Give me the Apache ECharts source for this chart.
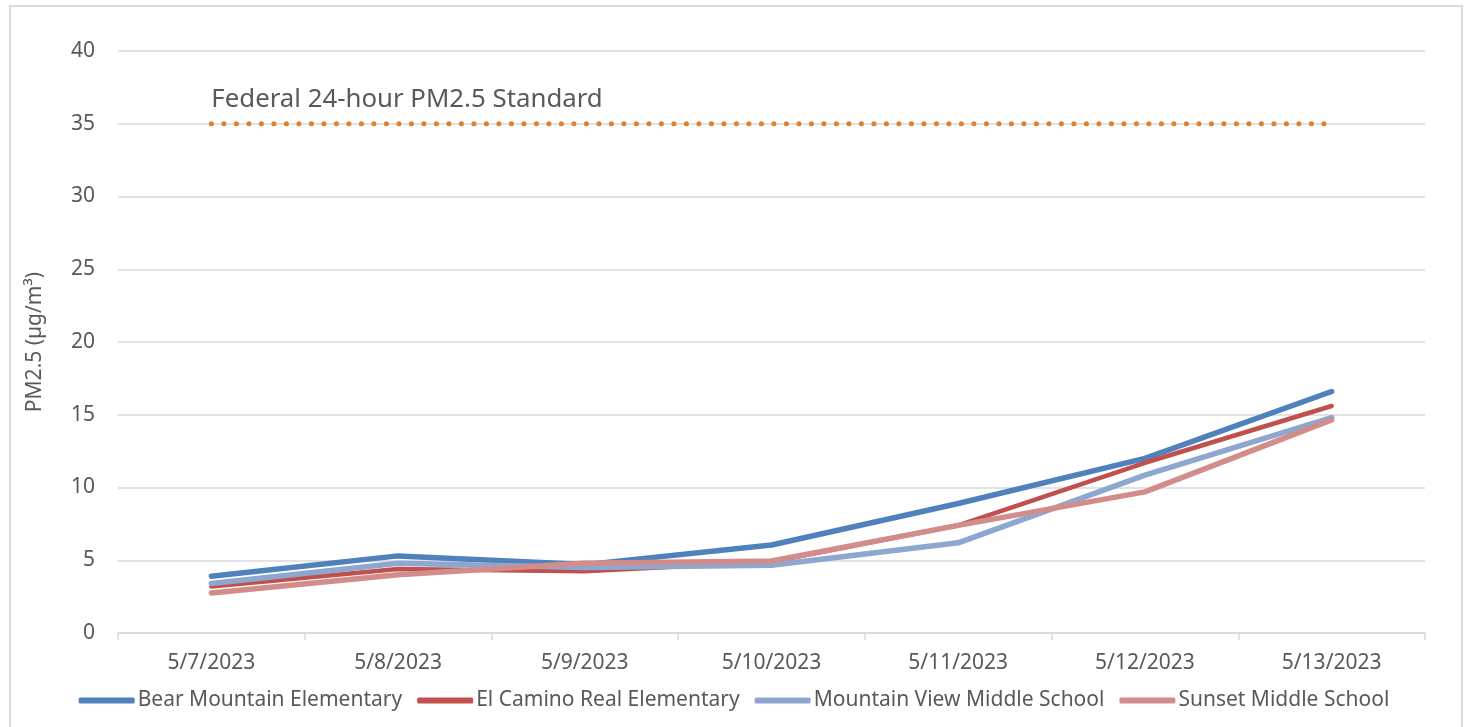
<!DOCTYPE html>
<html>
<head>
<meta charset="utf-8">
<title>PM2.5</title>
<script src="https://cdn.jsdelivr.net/npm/echarts@6/dist/echarts.min.js"></script>
<style>
  html, body { margin: 0; padding: 0; background: #fff; }
  #main { width: 1468px; height: 727px; }
</style>
</head>
<body>
<div id="main"></div>
<script>
// data
var dates = ['5/7/2023', '5/8/2023', '5/9/2023', '5/10/2023', '5/11/2023', '5/12/2023', '5/13/2023']
var bearMountain = [3.9, 5.3, 4.7, 6.05, 8.9, 12.0, 16.6]
var elCamino = [3.2, 4.4, 4.25, 4.9, 7.4, 11.7, 15.6]
var mountainView = [3.4, 4.8, 4.5, 4.65, 6.2, 10.85, 14.8]
var sunset = [2.75, 4.0, 4.8, 4.95, 7.4, 9.7, 14.65]
var standard = [35, 35, 35, 35, 35, 35, 35]
var yTicks = [0, 40, 5]

var font = 'Noto Sans'
var chartDom = document.getElementById('main')
var myChart = echarts.init(chartDom)

function school (name, data, color, width) {
  return {
    name: name,
    type: 'line',
    symbol: 'none',
    data: data,
    lineStyle: { color: color, width: width, cap: 'round', join: 'round' },
    itemStyle: { color: color },
    emphasis: { disabled: true }
  }
}

var stdData = standard.map(function (v, i) {
  if (i === 0) {
    return {
      value: v,
      label: {
        show: true,
        position: 'top',
        align: 'left',
        distance: 11,
        formatter: 'Federal 24-hour PM2.5 Standard',
        color: '#595959',
        fontFamily: font,
        fontSize: 25.8
      }
    }
  }
  return v
})

var option = {
  animation: false,
  textStyle: { fontFamily: font },
  graphic: [{
    type: 'rect',
    shape: { x: 10, y: 6, width: 1452, height: 740 },
    style: { fill: 'none', stroke: '#d9d9d9', lineWidth: 2 },
    silent: true
  }],
  grid: { left: 118, right: 43, top: 51, bottom: 94 },
  legend: {
    bottom: 11,
    left: 'center',
    icon: 'roundRect',
    itemWidth: 56,
    itemHeight: 6,
    itemGap: 15,
    data: ['Bear Mountain Elementary', 'El Camino Real Elementary', 'Mountain View Middle School', 'Sunset Middle School'],
    textStyle: { color: '#595959', fontSize: 21, fontFamily: font, padding: [0, 0, 0, -2] }
  },
  xAxis: {
    type: 'category',
    data: dates,
    boundaryGap: true,
    axisLine: { lineStyle: { color: '#d9d9d9', width: 1.5 } },
    axisTick: { show: true, length: 7, lineStyle: { color: '#d9d9d9', width: 1.5 } },
    axisLabel: { color: '#595959', fontSize: 21, margin: 20 }
  },
  yAxis: {
    type: 'value',
    min: yTicks[0],
    max: yTicks[1],
    interval: yTicks[2],
    name: 'PM2.5 (µg/m³)',
    nameLocation: 'middle',
    nameRotate: 90,
    nameGap: 72,
    nameTextStyle: { color: '#595959', fontSize: 21 },
    axisLine: { show: false },
    axisTick: { show: false },
    axisLabel: { color: '#595959', fontSize: 21, margin: 23 },
    splitLine: { lineStyle: { color: '#d9d9d9', width: 1.5 } }
  },
  series: [
    {
      name: 'Federal 24-hour PM2.5 Standard',
      type: 'line',
      symbol: 'circle',
      symbolSize: 0,
      data: stdData,
      lineStyle: { color: '#e2802f', width: 5, type: [0.1, 12.4], cap: 'round' },
      itemStyle: { color: '#e2802f' },
      emphasis: { disabled: true }
    },
    school('Bear Mountain Elementary', bearMountain, '#4f81bd', 5.5),
    school('El Camino Real Elementary', elCamino, '#c0504d', 4.5),
    school('Mountain View Middle School', mountainView, '#8da7d0', 5.5),
    school('Sunset Middle School', sunset, '#d28d8b', 5.5)
  ]
}

option && myChart.setOption(option)
</script>
</body>
</html>
